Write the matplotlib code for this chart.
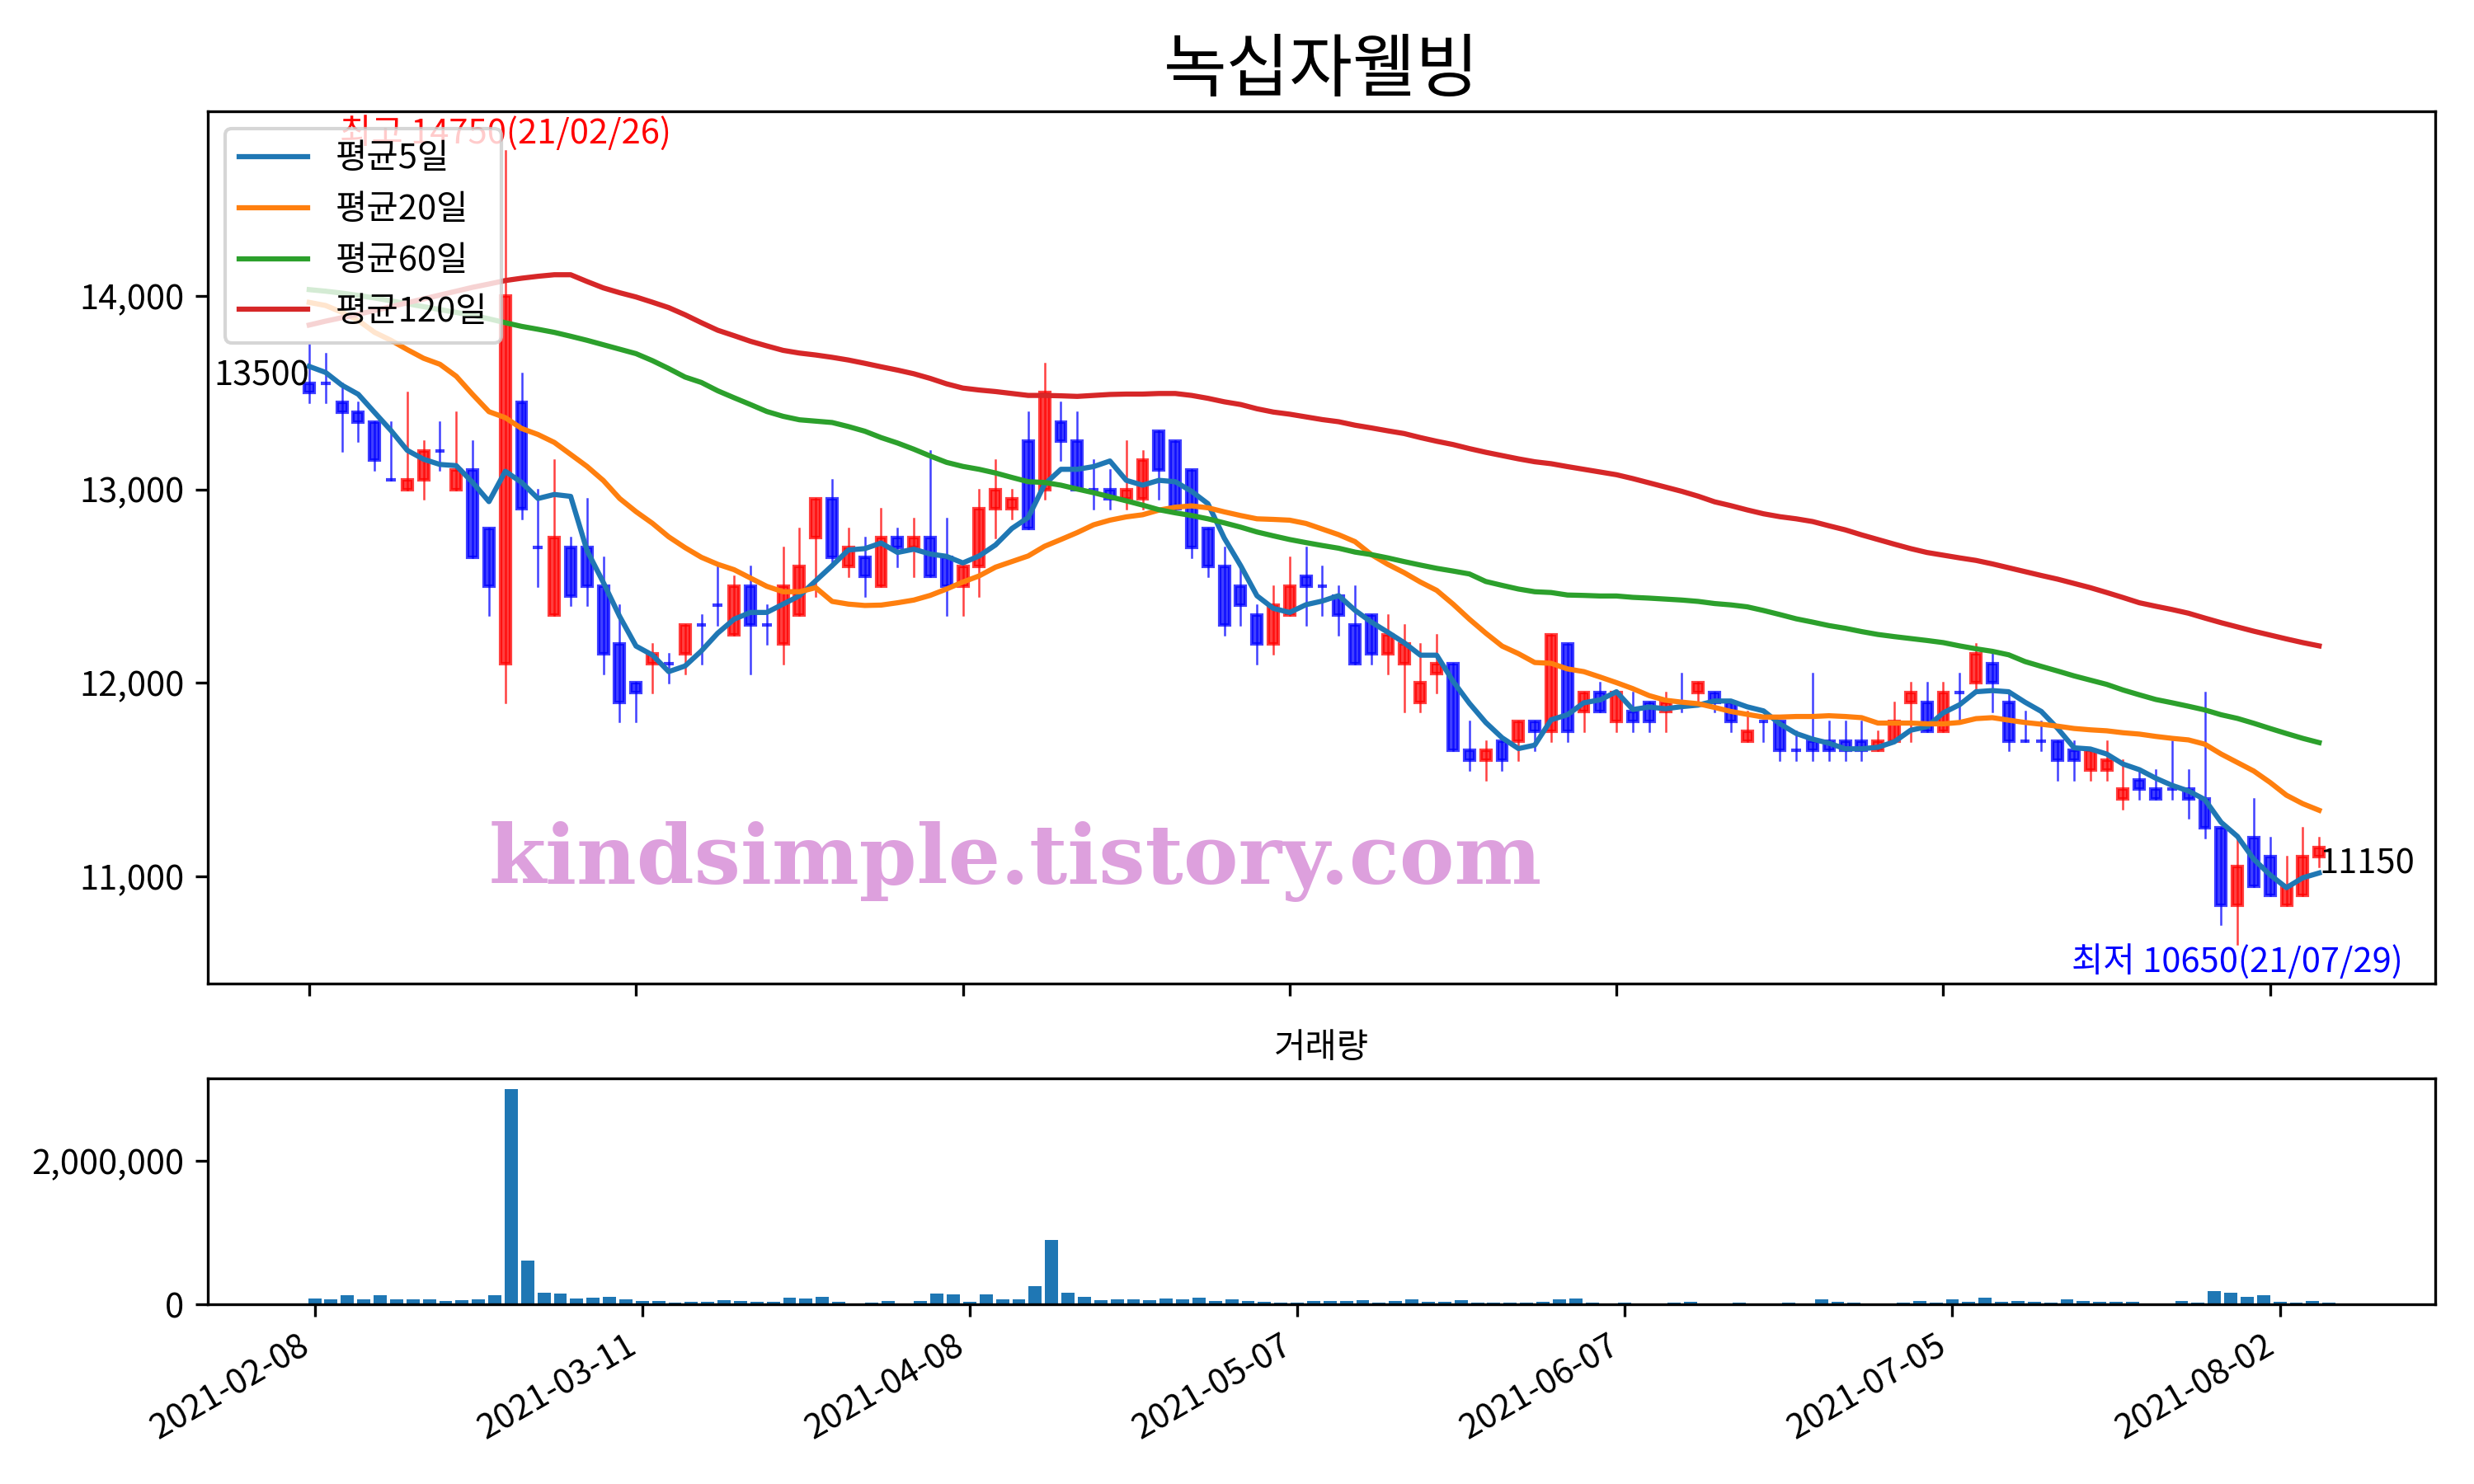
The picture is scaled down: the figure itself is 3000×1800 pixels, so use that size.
import numpy as np
import matplotlib
matplotlib.use("Agg")
import matplotlib.pyplot as plt
from matplotlib.patches import Rectangle
from matplotlib.lines import Line2D
from matplotlib.ticker import FuncFormatter

plt.rcParams['font.family'] = ['Noto Sans CJK KR', 'DejaVu Sans']
plt.rcParams['axes.unicode_minus'] = False

title = "녹십자웰빙"
watermark = "kindsimple.tistory.com"

opens = [13550, 13550, 13450, 13400, 13350, 13050, 13000, 13050, 13200, 13000,
         13100, 12800, 12100, 13450, 12700, 12350, 12700, 12700, 12500, 12200,
         12000, 12100, 12100, 12150, 12300, 12400, 12250, 12500, 12300, 12200,
         12350, 12750, 12950, 12600, 12650, 12500, 12750, 12700, 12750, 12650,
         12500, 12600, 12900, 12900, 13250, 13000, 13350, 13250, 13000, 13000,
         12950, 12950, 13300, 13250, 13100, 12800, 12600, 12500, 12350, 12200,
         12350, 12550, 12500, 12450, 12300, 12350, 12150, 12100, 11900, 12050,
         12100, 11650, 11600, 11700, 11700, 11800, 11750, 12200, 11850, 11950,
         11800, 11850, 11900, 11850, 11900, 11950, 11950, 11900, 11700, 11800,
         11800, 11650, 11700, 11700, 11700, 11700, 11650, 11700, 11900, 11900,
         11750, 11950, 12000, 12100, 11900, 11700, 11700, 11700, 11650, 11550,
         11550, 11400, 11500, 11450, 11450, 11450, 11400, 11250, 10850, 11200,
         11100, 10850, 10900, 11100]
highs = [13750, 13700, 13550, 13450, 13350, 13350, 13500, 13250, 13350, 13400,
         13250, 12800, 14750, 13600, 13000, 13150, 12750, 12950, 12650, 12400,
         12000, 12200, 12150, 12300, 12350, 12600, 12550, 12600, 12400, 12700,
         12800, 12950, 13050, 12800, 12750, 12900, 12800, 12850, 13200, 12850,
         12600, 13000, 13150, 13000, 13400, 13650, 13450, 13400, 13150, 13100,
         13250, 13200, 13300, 13250, 13100, 12800, 12700, 12600, 12400, 12500,
         12650, 12700, 12600, 12500, 12500, 12350, 12350, 12300, 12200, 12250,
         12100, 11800, 11700, 11700, 11800, 11800, 12250, 12200, 11950, 12000,
         11950, 11950, 11900, 11950, 12050, 12000, 11950, 11900, 11850, 11800,
         11800, 11750, 12050, 11800, 11800, 11800, 11750, 11900, 12000, 12000,
         12000, 12050, 12200, 12150, 11950, 11850, 11800, 11700, 11700, 11650,
         11700, 11600, 11550, 11550, 11700, 11550, 11950, 11250, 11200, 11400,
         11200, 11100, 11250, 11200]
lows = [13450, 13450, 13200, 13250, 13100, 13050, 13000, 12950, 13100, 13000,
        12650, 12350, 11900, 12850, 12500, 12350, 12400, 12400, 12050, 11800,
        11800, 11950, 12000, 12050, 12100, 12300, 12250, 12050, 12200, 12100,
        12350, 12450, 12600, 12550, 12450, 12500, 12600, 12550, 12550, 12350,
        12350, 12450, 12750, 12850, 12800, 12950, 13150, 13000, 12900, 12900,
        12900, 12900, 12950, 12900, 12650, 12550, 12250, 12300, 12100, 12150,
        12350, 12300, 12350, 12250, 12100, 12100, 12050, 11850, 11850, 11950,
        11650, 11550, 11500, 11550, 11600, 11650, 11700, 11700, 11750, 11850,
        11750, 11750, 11750, 11750, 11850, 11900, 11850, 11750, 11700, 11700,
        11600, 11600, 11600, 11600, 11600, 11600, 11650, 11700, 11700, 11750,
        11750, 11800, 11950, 11850, 11650, 11700, 11650, 11500, 11500, 11500,
        11500, 11350, 11400, 11400, 11400, 11300, 11200, 10750, 10650, 10950,
        10900, 10850, 10900, 11050]
closes = [13500, 13550, 13400, 13350, 13150, 13050, 13050, 13200, 13200, 13100,
          12650, 12500, 14000, 12900, 12700, 12750, 12450, 12500, 12150, 11900,
          11950, 12150, 12100, 12300, 12300, 12400, 12500, 12300, 12300, 12500,
          12600, 12950, 12650, 12700, 12550, 12750, 12700, 12750, 12550, 12500,
          12600, 12900, 13000, 12950, 12800, 13500, 13250, 13000, 13000, 12950,
          13000, 13150, 13100, 12900, 12700, 12600, 12300, 12400, 12200, 12400,
          12500, 12500, 12500, 12350, 12100, 12150, 12250, 12200, 12000, 12100,
          11650, 11600, 11650, 11600, 11800, 11750, 12250, 11750, 11950, 11850,
          11950, 11800, 11800, 11900, 11900, 12000, 11900, 11800, 11750, 11800,
          11650, 11650, 11650, 11650, 11650, 11650, 11700, 11800, 11950, 11750,
          11950, 11950, 12150, 12000, 11700, 11700, 11700, 11600, 11600, 11650,
          11600, 11450, 11450, 11400, 11450, 11400, 11250, 10850, 11050, 10950,
          10900, 10950, 11100, 11150]
volumes = [84000, 73000, 130000, 73000, 130000, 73000, 73000, 73000, 50000, 61000,
           73000, 130000, 2990000, 612000, 164000, 153000, 84000, 96000, 107000, 73000,
           50000, 50000, 27000, 38000, 38000, 61000, 50000, 38000, 38000, 96000,
           84000, 107000, 38000, 15000, 27000, 50000, 15000, 50000, 153000, 141000,
           38000, 141000, 73000, 73000, 256000, 899000, 164000, 107000, 61000, 73000,
           73000, 61000, 84000, 73000, 96000, 50000, 73000, 50000, 38000, 27000,
           27000, 50000, 50000, 50000, 61000, 27000, 50000, 73000, 38000, 38000,
           61000, 27000, 27000, 27000, 27000, 38000, 73000, 84000, 27000, 15000,
           27000, 15000, 15000, 27000, 38000, 15000, 4000, 27000, 15000, 15000,
           27000, 15000, 73000, 38000, 27000, 15000, 15000, 27000, 50000, 27000,
           73000, 38000, 96000, 38000, 50000, 38000, 27000, 73000, 50000, 38000,
           38000, 38000, 15000, 4000, 50000, 27000, 187000, 164000, 107000, 130000,
           38000, 27000, 50000, 27000]

ma5 = [13636, 13605, 13539, 13492, 13398, 13305, 13202, 13156, 13129, 13123,
       13036, 12937, 13094, 13036, 12953, 12974, 12964, 12684, 12519, 12343,
       12190, 12144, 12058, 12087, 12165, 12257, 12329, 12364, 12364, 12407,
       12450, 12528, 12606, 12687, 12694, 12723, 12674, 12691, 12666, 12654,
       12620, 12656, 12713, 12798, 12855, 13026, 13104, 13104, 13118, 13147,
       13047, 13022, 13047, 13040, 12990, 12926, 12748, 12606, 12450, 12385,
       12364, 12404, 12423, 12451, 12375, 12314, 12262, 12208, 12143, 12143,
       12008, 11894, 11795, 11716, 11660, 11678, 11809, 11835, 11897, 11912,
       11954, 11862, 11875, 11866, 11877, 11885, 11906, 11906, 11876, 11855,
       11788, 11738, 11709, 11688, 11659, 11659, 11667, 11695, 11755, 11773,
       11845, 11887, 11954, 11960, 11954, 11900, 11852, 11764, 11664, 11658,
       11632, 11580, 11551, 11507, 11470, 11441, 11397, 11279, 11206, 11088,
       11007, 10941, 10992, 11017]
ma20 = [13967, 13951, 13916, 13874, 13812, 13771, 13723, 13678, 13647, 13585,
        13491, 13402, 13371, 13315, 13284, 13243, 13181, 13119, 13046, 12953,
        12885, 12825, 12755, 12699, 12649, 12613, 12585, 12542, 12499, 12471,
        12471, 12492, 12421, 12407, 12400, 12402, 12414, 12428, 12452, 12485,
        12521, 12553, 12598, 12627, 12656, 12706, 12741, 12777, 12817, 12841,
        12858, 12869, 12893, 12908, 12915, 12905, 12884, 12865, 12848, 12845,
        12841, 12824, 12795, 12766, 12730, 12663, 12613, 12570, 12521, 12478,
        12407, 12329, 12257, 12190, 12151, 12105, 12101, 12072, 12058, 12030,
        12001, 11970, 11934, 11910, 11900, 11892, 11873, 11852, 11837, 11823,
        11823, 11826, 11826, 11830, 11826, 11820, 11792, 11792, 11792, 11788,
        11788, 11795, 11815, 11820, 11807, 11795, 11786, 11776, 11764, 11757,
        11752, 11742, 11735, 11723, 11713, 11705, 11683, 11632, 11588, 11544,
        11485, 11419, 11375, 11341]
ma60 = [14033, 14025, 14015, 14003, 13990, 13975, 13960, 13945, 13930, 13915,
        13900, 13882, 13862, 13843, 13828, 13812, 13792, 13771, 13748, 13725,
        13702, 13666, 13625, 13581, 13553, 13510, 13474, 13439, 13403, 13378,
        13360, 13353, 13346, 13325, 13301, 13268, 13240, 13208, 13173, 13140,
        13119, 13104, 13085, 13062, 13040, 13036, 13022, 13002, 12983, 12962,
        12941, 12919, 12895, 12879, 12865, 12848, 12827, 12805, 12780, 12760,
        12741, 12725, 12710, 12696, 12676, 12663, 12646, 12627, 12609, 12592,
        12578, 12563, 12524, 12504, 12485, 12471, 12467, 12454, 12452, 12449,
        12449, 12442, 12438, 12433, 12428, 12421, 12410, 12403, 12393, 12374,
        12353, 12331, 12314, 12296, 12282, 12265, 12250, 12239, 12229, 12219,
        12208, 12191, 12176, 12163, 12145, 12110, 12085, 12061, 12036, 12014,
        11992, 11963, 11938, 11914, 11897, 11879, 11860, 11835, 11816, 11791,
        11764, 11738, 11713, 11691]
ma120 = [13850, 13870, 13888, 13906, 13925, 13945, 13965, 13985, 14005, 14025,
         14045, 14062, 14080, 14092, 14102, 14110, 14110, 14075, 14042, 14017,
         13995, 13968, 13940, 13903, 13862, 13823, 13795, 13766, 13742, 13719,
         13705, 13695, 13683, 13669, 13652, 13634, 13617, 13598, 13574, 13546,
         13524, 13514, 13506, 13496, 13486, 13486, 13484, 13481, 13486, 13491,
         13493, 13493, 13496, 13496, 13486, 13471, 13453, 13439, 13417, 13400,
         13389, 13375, 13361, 13350, 13332, 13318, 13303, 13289, 13268, 13249,
         13232, 13211, 13192, 13175, 13158, 13143, 13133, 13118, 13104, 13090,
         13076, 13056, 13034, 13012, 12990, 12965, 12936, 12916, 12894, 12874,
         12859, 12848, 12834, 12812, 12791, 12765, 12741, 12717, 12694, 12674,
         12660, 12646, 12633, 12615, 12595, 12575, 12555, 12536, 12514, 12492,
         12467, 12441, 12414, 12396, 12379, 12360, 12335, 12311, 12289, 12267,
         12247, 12227, 12208, 12191]

tick_pos = [0, 20, 40, 60, 80, 100, 120]
tick_labels = ["2021-02-08", "2021-03-11", "2021-04-08", "2021-05-07",
               "2021-06-07", "2021-07-05", "2021-08-02"]
high_note = "최고 14750(21/02/26)"
low_note = "최저 10650(21/07/29)"


def candlestick(ax, o_, h_, l_, c_, width=0.6, alpha=0.75):
    for i, (o, h, l, c) in enumerate(zip(o_, h_, l_, c_)):
        clr = 'r' if c > o else 'b'
        wick = Line2D([i, i], [l, h], color=clr, linewidth=0.6, alpha=alpha)
        body = Rectangle((i - width / 2, min(o, c)), width, abs(c - o),
                         facecolor=clr, edgecolor=clr, alpha=alpha)
        ax.add_line(wick)
        ax.add_patch(body)


comma = FuncFormatter(lambda v, p: "{:,.0f}".format(v))
x = np.arange(len(closes))

fig = plt.figure(figsize=(10, 6), dpi=300)
ax = fig.add_axes([0.0841, 0.3372, 0.9002, 0.5878])
ax2 = fig.add_axes([0.0841, 0.1209, 0.9002, 0.1523])

candlestick(ax, opens, highs, lows, closes)
ax.plot(x, ma5, label="평균5일")
ax.plot(x, ma20, label="평균20일")
ax.plot(x, ma60, label="평균60일")
ax.plot(x, ma120, label="평균120일")
ax.autoscale_view()
ax.set_xlim(-6.19, 130.1)
ax.set_xticks(tick_pos)
ax.tick_params(labelbottom=False)
ax.yaxis.set_major_formatter(comma)
ax.set_title(title, fontsize=20)

hi = int(np.argmax(highs))
lo = int(np.argmin(lows))
ax.text(hi, highs[hi], high_note, color='red', ha='center', va='bottom')
ax.text(lo, lows[lo], low_note, color='blue', ha='center', va='top')
ax.text(0, closes[0], str(closes[0]), ha='right', va='bottom')
ax.text(len(closes) - 1, closes[-1], str(closes[-1]), ha='left', va='top')
ax.legend(loc='upper left')

# watermark
fig.text(0.4105, 0.4195, watermark, family='DejaVu Serif', fontweight='heavy',
         fontsize=24, color='plum', ha='center', va='center')

ax2.bar(x, volumes)
ax2.set_xlim(-6.51, 129.48)
ax2.set_xticks(tick_pos)
ax2.set_xticklabels(tick_labels, rotation=30, ha='right')
ax2.yaxis.set_major_formatter(comma)
ax2.set_title("거래량", fontsize=10)

fig.savefig("out.png")
